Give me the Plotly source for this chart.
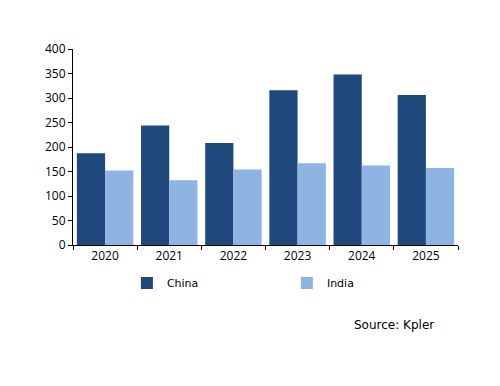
import plotly.graph_objects as go

years = ["2020", "2021", "2022", "2023", "2024", "2025"]
china = [187, 244, 208, 316, 348, 306]
india = [152, 132, 154, 167, 162, 157]
y_ticks = [0, 50, 100, 150, 200, 250, 300, 350, 400]

FONT = "Open Sans"
W, H = 492, 378
L, T = 65, 41
PW, PH = 385, 196

fig = go.Figure()
fig.add_trace(go.Bar(x=years, y=china, name="China", marker=dict(color="#1F497D", line=dict(width=0))))
fig.add_trace(go.Bar(x=years, y=india, name="India", marker=dict(color="#8EB4E3", line=dict(width=0))))

fig.update_layout(
    width=W, height=H,
    margin=dict(l=L, r=W - L - PW, t=T, b=H - T - PH),
    paper_bgcolor="white", plot_bgcolor="white",
    barmode="group", bargap=0.12, bargroupgap=0,
    font=dict(family=FONT, size=12, color="#000000"),
    showlegend=True,
    legend=dict(orientation="h", x=0.14, y=-0.12, xanchor="left", yanchor="top",
                entrywidth=115, entrywidthmode="pixels", itemwidth=30,
                font=dict(family="DejaVu Sans", size=11)),
    xaxis=dict(type="category", showline=True, linecolor="black", linewidth=1,
               ticks="outside", tickson="boundaries", ticklen=4, tickcolor="black",
               showgrid=False, tickfont=dict(size=12)),
    yaxis=dict(range=[0, 400], tickvals=y_ticks, showline=True, linecolor="black", linewidth=1,
               ticks="outside", ticklen=4, tickcolor="black", showgrid=False, zeroline=False,
               tickfont=dict(size=12)),
    annotations=[dict(text="Source: Kpler", xref="paper", yref="paper", x=(436 - 73) / PW, y=(245 - 325) / PH,
                      xanchor="right", yanchor="middle", showarrow=False,
                      font=dict(family="DejaVu Sans", size=12))],
)

fig.write_html("out.html")
